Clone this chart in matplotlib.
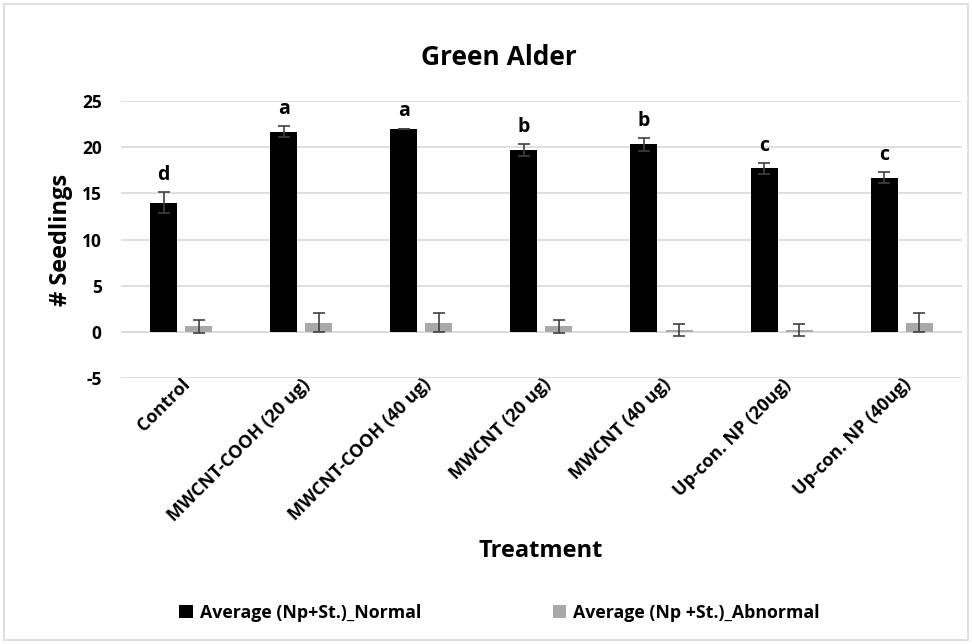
import matplotlib.pyplot as plt
import numpy as np
from matplotlib.patches import Rectangle

treatments = ['Control', 'MWCNT-COOH (20 ug)', 'MWCNT-COOH (40 ug)', 'MWCNT (20 ug)',
              'MWCNT (40 ug)', 'Up-con. NP (20ug)', 'Up-con. NP (40ug)']
normal = [14.0, 21.7, 22.0, 19.7, 20.3, 17.7, 16.7]
normal_err = [1.1, 0.6, 0.0, 0.6, 0.7, 0.6, 0.6]
abnormal = [0.6, 1.0, 1.0, 0.6, 0.2, 0.2, 1.0]
abnormal_err = [0.7, 1.0, 1.0, 0.7, 0.65, 0.65, 1.0]
letters = ['d', 'a', 'a', 'b', 'b', 'c', 'c']

plt.rcParams['font.family'] = ['Open Sans', 'DejaVu Sans']
plt.rcParams['font.weight'] = 'bold'
plt.rcParams['axes.unicode_minus'] = False

fig = plt.figure(figsize=(9.72, 6.44), dpi=100)
ax = fig.add_axes([0.1245, 0.413, 0.865, 0.43])

x = np.arange(len(treatments))
w = 0.225
off = 0.146
ekw = dict(ecolor='#404040', elinewidth=1.2, capsize=4.5, capthick=1.2)
b1 = ax.bar(x - off, normal, w, color='black', yerr=normal_err, error_kw=ekw, zorder=3,
            label='Average (Np+St.)_Normal')
b2 = ax.bar(x + off, abnormal, w, color='#aba8a8', yerr=abnormal_err, error_kw=ekw, zorder=3,
            label='Average (Np +St.)_Abnormal')

# significance letters above the normal bars
for xi, v, e, t in zip(x, normal, normal_err, letters):
    ax.text(xi - off, v + e + 0.8, t, ha='center', va='bottom', fontsize=14, fontweight='bold')

ax.set_xlim(-0.5, len(treatments) - 0.5)
ax.set_ylim(-5, 25)
ax.set_yticks(range(-5, 26, 5))
ax.yaxis.grid(True, color='#d9d9d9', linewidth=1.2, zorder=0)
ax.axhline(0, color='#d9d9d9', linewidth=1.2, zorder=1)
for s in ax.spines.values():
    s.set_visible(False)
ax.tick_params(axis='both', length=0, labelsize=12.5)
ax.tick_params(axis='y', pad=14)
ax.set_xticks(x)
ax.set_xticklabels(treatments, rotation=45, ha='right', rotation_mode='anchor', fontsize=13,
                   fontweight='bold')
for lab in ax.get_yticklabels():
    lab.set_fontweight('bold')
ax.tick_params(axis='x', pad=-2)

ax.set_ylabel('# Seedlings', fontsize=17, fontweight='bold', labelpad=6)
fig.text(0.513, 0.91, 'Green Alder', ha='center', va='center', fontsize=19, fontweight='bold')
fig.text(0.556, 0.145, 'Treatment', ha='center', va='center', fontsize=17, fontweight='bold')

fig.legend(handles=[b1, b2], loc='center', bbox_to_anchor=(0.514, 0.048), ncol=2, frameon=False,
           fontsize=12.8, handlelength=0.75, handleheight=0.75, columnspacing=7.4,
           handletextpad=0.4)

fig.patches.append(Rectangle((0.004, 0.006), 0.992, 0.988, transform=fig.transFigure,
                             fill=False, edgecolor='#d9d9d9', linewidth=1.2))

fig.savefig('out.png', dpi=100)
